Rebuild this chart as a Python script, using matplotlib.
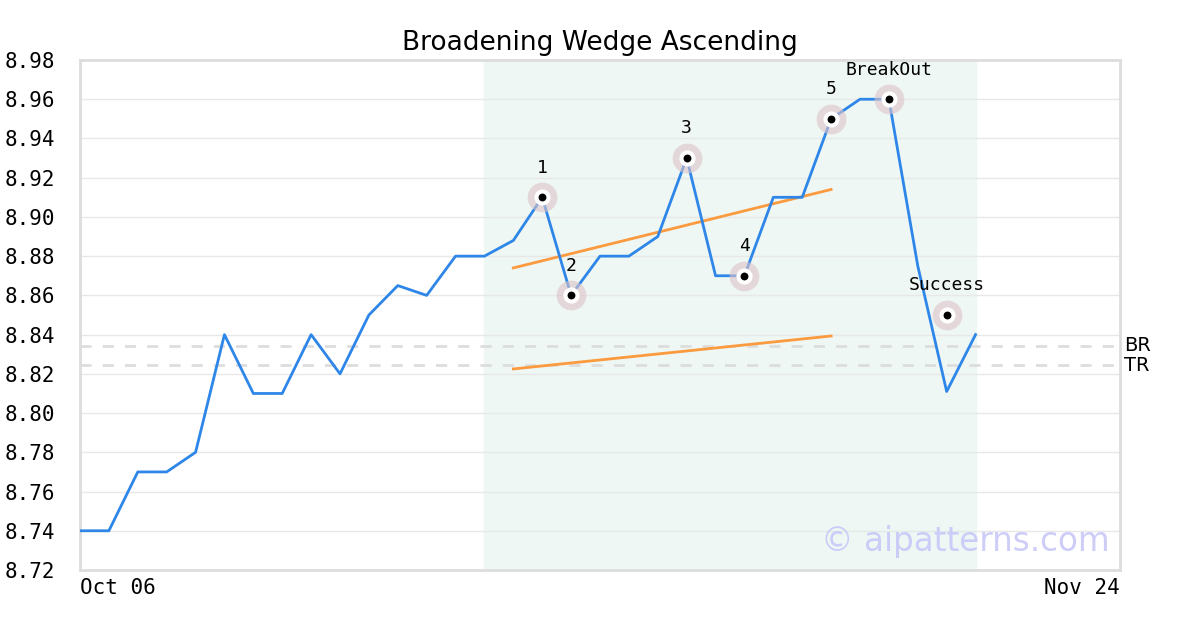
import matplotlib
matplotlib.use("Agg")
import matplotlib.pyplot as plt

# price series (one point per trading day)
prices = [8.74, 8.74, 8.77, 8.77, 8.78, 8.84, 8.81, 8.81, 8.84, 8.82,
          8.85, 8.865, 8.86, 8.88, 8.88, 8.888, 8.91, 8.86, 8.88, 8.88,
          8.89, 8.93, 8.87, 8.87, 8.91, 8.91, 8.95, 8.96, 8.96, 8.875,
          8.811, 8.84]
x = list(range(len(prices)))
x_max = 36
x_labels = ["Oct 06", "Nov 24"]

# pattern points
pt_idx = [16, 17, 21, 23, 26, 28, 30]
pt_val = [8.91, 8.86, 8.93, 8.87, 8.95, 8.96, 8.85]
pt_lbl = ["1", "2", "3", "4", "5", "BreakOut", "Success"]

# wedge trend lines
upper_x = [15, 26]
upper_y = [8.874, 8.914]
lower_x = [15, 26]
lower_y = [8.8225, 8.8393]

# levels
br_level = 8.8342
tr_level = 8.8245
shade_start, shade_end = 14, 31

yticks = [8.72 + 0.02 * i for i in range(14)]

fig = plt.figure(figsize=(12, 6.3), dpi=100)
ax = fig.add_axes([80 / 1200, 60 / 630, 1040 / 1200, 510 / 630])

ax.axvspan(shade_start, shade_end, color="#eef7f4", zorder=0)
ax.plot(x, prices, color="#2e86e8", lw=2, zorder=3)
ax.plot(upper_x, upper_y, color="#fb9a3e", lw=2, zorder=2)
ax.plot(lower_x, lower_y, color="#fb9a3e", lw=2, zorder=2)

for lvl, name in [(br_level, "BR"), (tr_level, "TR")]:
    ax.axhline(lvl, color="#dddddd", lw=2, ls=(0, (4, 4)), zorder=1)
    ax.text(x_max + 0.15, lvl, name, fontsize=14, va="center", ha="left",
            family="DejaVu Sans")

ax.scatter(pt_idx, pt_val, s=460, color="#dcc3ca", alpha=0.6, zorder=4, lw=0)
ax.scatter(pt_idx, pt_val, s=135, color="white", zorder=5, lw=0)
ax.scatter(pt_idx, pt_val, s=32, color="black", zorder=6, lw=0)
for i, v, t in zip(pt_idx, pt_val, pt_lbl):
    ax.text(i, v + 0.0105, t, ha="center", va="bottom", fontsize=13,
            family="DejaVu Sans Mono", zorder=7)

ax.text(0.99, 0.055, "© aipatterns.com", transform=ax.transAxes, ha="right",
        va="center", fontsize=23.5, color="#c8c8f8", alpha=0.9, zorder=7)

ax.set_xlim(0, x_max)
ax.set_ylim(8.72, 8.98)
ax.set_yticks(yticks)
ax.set_yticklabels([f"{v:.2f}" for v in yticks], family="DejaVu Sans Mono",
                   fontsize=15)
ax.set_xticks([0, x_max])
ax.set_xticklabels(x_labels, family="DejaVu Sans Mono", fontsize=15)
xt = ax.get_xticklabels()
xt[0].set_ha("left")
xt[1].set_ha("right")
ax.tick_params(axis="x", length=0, pad=6)
ax.tick_params(axis="y", length=0, pad=18)
ax.grid(axis="y", color="#e8e8e8", lw=1)
for s in ax.spines.values():
    s.set_color("#dddddd")
    s.set_linewidth(2)

ax.set_title("Broadening Wedge Ascending", fontsize=19, pad=7)

fig.savefig("out.png", dpi=100)
